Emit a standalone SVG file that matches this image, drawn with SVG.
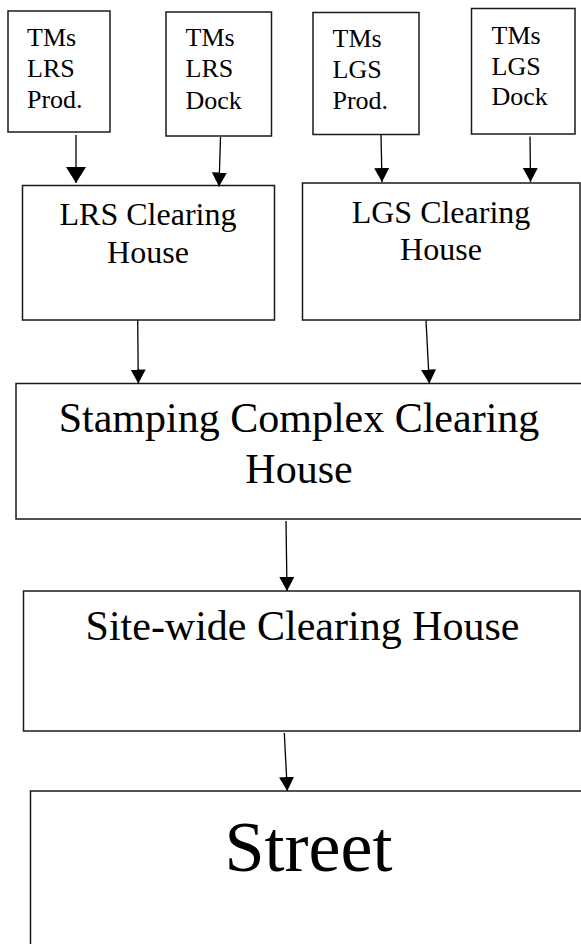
<svg xmlns="http://www.w3.org/2000/svg" width="581" height="944" viewBox="0 0 581 944">
<style>
.box{fill:#fff;stroke:#1a1a1a;stroke-width:1.5}
text{font-family:'Liberation Serif','Times New Roman','DejaVu Serif',serif;fill:#000}
.s{font-size:26px}
.m{font-size:32px;text-anchor:middle}
.l{font-size:42px;text-anchor:middle}
.x{font-size:72px;text-anchor:middle}
.c{stroke:#000;stroke-width:1.3;fill:none;marker-end:url(#ah)}
</style>
<defs>
<marker id="ah" markerUnits="userSpaceOnUse" markerWidth="14" markerHeight="15" refX="14" refY="7.5" orient="auto" viewBox="0 0 14 15">
<path d="M0,0 L14,7.5 L0,15 z" fill="#000"/>
</marker>
<marker id="ahb" markerUnits="userSpaceOnUse" markerWidth="16" markerHeight="20" refX="16" refY="10" orient="auto" viewBox="0 0 16 20">
<path d="M0,0 L16,10 L0,20 z" fill="#000"/>
</marker>
</defs>
<rect width="581" height="944" fill="#fff"/>
<g id="tms-lrs-prod">
<rect class="box" x="8" y="11" width="102" height="121"/>
<text class="s" x="27" y="46" font-family="Liberation Serif, serif">TMs</text>
<text class="s" x="27" y="77" font-family="Liberation Serif, serif">LRS</text>
<text class="s" x="27" y="108" font-family="Liberation Serif, serif">Prod.</text>
</g>
<g id="tms-lrs-dock">
<rect class="box" x="166" y="12" width="105.5" height="124"/>
<text class="s" x="185.5" y="46" font-family="Liberation Serif, serif">TMs</text>
<text class="s" x="185.5" y="77" font-family="Liberation Serif, serif">LRS</text>
<text class="s" x="185.5" y="108.5" font-family="Liberation Serif, serif">Dock</text>
</g>
<g id="tms-lgs-prod">
<rect class="box" x="313" y="12.5" width="106" height="122"/>
<text class="s" x="332.5" y="47" font-family="Liberation Serif, serif">TMs</text>
<text class="s" x="332.5" y="78" font-family="Liberation Serif, serif">LGS</text>
<text class="s" x="332.5" y="108.5" font-family="Liberation Serif, serif">Prod.</text>
</g>
<g id="tms-lgs-dock">
<rect class="box" x="471.5" y="8.5" width="103.5" height="125.5"/>
<text class="s" x="491.5" y="44" font-family="Liberation Serif, serif">TMs</text>
<text class="s" x="491.5" y="74.5" font-family="Liberation Serif, serif">LGS</text>
<text class="s" x="491.5" y="104.5" font-family="Liberation Serif, serif">Dock</text>
</g>
<g id="lrs-clearing">
<rect class="box" x="22.5" y="185.5" width="252" height="134.5"/>
<text class="m" x="148" y="225" font-family="Liberation Serif, serif">LRS Clearing</text>
<text class="m" x="148" y="262.5" font-family="Liberation Serif, serif">House</text>
</g>
<g id="lgs-clearing">
<rect class="box" x="302.5" y="183" width="277.5" height="137"/>
<text class="m" x="441" y="223" font-family="Liberation Serif, serif">LGS Clearing</text>
<text class="m" x="441" y="260" font-family="Liberation Serif, serif">House</text>
</g>
<g id="stamping">
<rect class="box" x="16" y="383.5" width="567" height="135.5"/>
<text class="l" x="299" y="431.5" font-family="Liberation Serif, serif">Stamping Complex Clearing</text>
<text class="l" x="299" y="483" font-family="Liberation Serif, serif">House</text>
</g>
<g id="site-wide">
<rect class="box" x="23.5" y="591" width="556.5" height="140"/>
<text class="l" x="302.5" y="640" font-family="Liberation Serif, serif">Site-wide Clearing House</text>
</g>
<g id="street">
<rect class="box" x="30.5" y="791" width="553" height="160"/>
<text class="x" x="308.5" y="870.5" font-family="Liberation Serif, serif">Street</text>
</g>
<g id="connectors">
<line class="c" x1="76" y1="135" x2="76" y2="183" style="marker-end:url(#ahb)"/>
<line class="c" x1="220.5" y1="137" x2="219" y2="186.5"/>
<line class="c" x1="381" y1="135" x2="382" y2="182"/>
<line class="c" x1="530" y1="136.5" x2="530.5" y2="182"/>
<line class="c" x1="137.7" y1="320" x2="138.3" y2="383.5"/>
<line class="c" x1="426" y1="320.5" x2="429.3" y2="383.5"/>
<line class="c" x1="286" y1="521" x2="287" y2="591"/>
<line class="c" x1="284.3" y1="733" x2="287.3" y2="791"/>
</g>
</svg>
